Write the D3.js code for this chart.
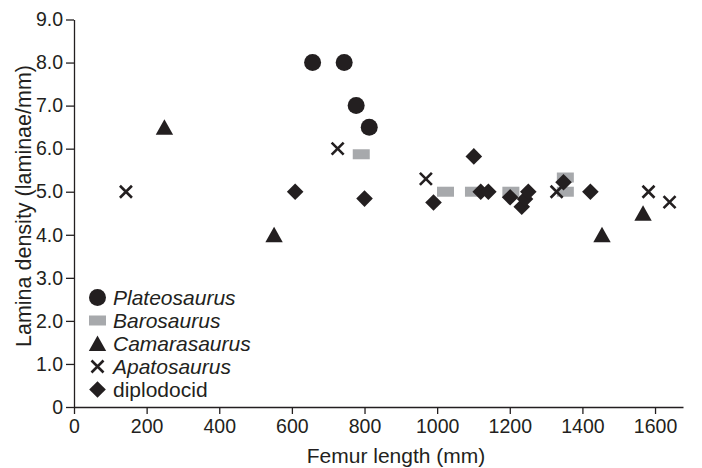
<!DOCTYPE html>
<html>
<head>
<meta charset="utf-8">
<script src="https://cdn.jsdelivr.net/npm/d3@7"></script>
<style>
  body { margin: 0; background: #fff; }
  text { font-family: "Liberation Sans", Arial, sans-serif; fill: #231f20; }
</style>
</head>
<body>
<script>
// chart size
var w = 702;
var h = 468;

// data: [femur length (mm), lamina density]
var plateosaurus = [[657, 8.0], [744, 8.0], [777, 7.0], [813, 6.5]];
var barosaurus = [[791, 5.87], [1023, 5.0], [1100, 5.0], [1203, 5.0], [1353, 5.33], [1353, 5.0]];
var camarasaurus = [[249, 6.5], [551, 4.0], [1454, 4.0], [1567, 4.5]];
var apatosaurus = [[143, 5.0], [726, 6.0], [969, 5.3], [1329, 5.0], [1582, 5.0], [1640, 4.76]];
var diplodocid = [[609, 5.0], [800, 4.84], [990, 4.75], [1101, 5.82], [1120, 5.0], [1141, 5.0],
                  [1201, 4.87], [1233, 4.65], [1242, 4.83], [1251, 5.0], [1348, 5.22], [1422, 5.0]];

var legendNames = ["Plateosaurus", "Barosaurus", "Camarasaurus", "Apatosaurus", "diplodocid"];
var xTicks = [0, 200, 400, 600, 800, 1000, 1200, 1400, 1600];
var yTicks = [0, 1, 2, 3, 4, 5, 6, 7, 8, 9];

var ink = "#231f20";
var grey = "#a7a9ac";

var svg = d3.select("body").append("svg")
    .attr("width", w)
    .attr("height", h);

var x = d3.scaleLinear().domain([0, 1677]).range([74, 683]);
var y = d3.scaleLinear().domain([0, 9]).range([407, 19.5]);

// axes
var xAxis = svg.append("g")
    .attr("transform", "translate(0," + y(0) + ")")
    .call(d3.axisBottom(x).tickValues(xTicks).tickSize(7).tickSizeOuter(0).tickPadding(5)
      .tickFormat(d3.format("d")));
var yAxis = svg.append("g")
    .attr("transform", "translate(" + x(0) + ",0)")
    .call(d3.axisLeft(y).tickValues(yTicks).tickSize(8).tickSizeOuter(0).tickPadding(3)
      .tickFormat(function(d) { return d === 0 ? "0" : d.toFixed(1); }));

[xAxis, yAxis].forEach(function(a) {
  a.selectAll("path, line").attr("stroke", ink).attr("stroke-width", 1.3);
  a.selectAll("text").attr("font-size", 19.5).attr("fill", ink)
    .style("font-family", "'Liberation Sans', Arial, sans-serif");
});

// axis titles
svg.append("text")
    .attr("x", 396)
    .attr("y", 463)
    .attr("text-anchor", "middle")
    .attr("font-size", 21)
    .text("Femur length (mm)");

svg.append("text")
    .attr("transform", "translate(30.5,206) rotate(-90)")
    .attr("text-anchor", "middle")
    .attr("font-size", 21.5)
    .text("Lamina density (laminae/mm)");

// marker shapes, drawn around (cx, cy)
function circle(g, cx, cy) {
  g.append("circle").attr("cx", cx).attr("cy", cy).attr("r", 8.5).attr("fill", ink);
}
function rect(g, cx, cy) {
  g.append("rect").attr("x", cx - 8.5).attr("y", cy - 5).attr("width", 17).attr("height", 10).attr("fill", grey);
}
function triangle(g, cx, cy) {
  g.append("path")
    .attr("d", "M" + cx + "," + (cy - 8) + "L" + (cx + 8.7) + "," + (cy + 7.5) + "L" + (cx - 8.7) + "," + (cy + 7.5) + "Z")
    .attr("fill", ink);
}
function cross(g, cx, cy) {
  g.append("path")
    .attr("d", "M" + (cx - 6) + "," + (cy - 6) + "L" + (cx + 6) + "," + (cy + 6) +
               "M" + (cx + 6) + "," + (cy - 6) + "L" + (cx - 6) + "," + (cy + 6))
    .attr("stroke", ink).attr("stroke-width", 2.6).attr("fill", "none");
}
function diamond(g, cx, cy) {
  g.append("path")
    .attr("d", "M" + cx + "," + (cy - 8.3) + "L" + (cx + 8.3) + "," + cy + "L" + cx + "," + (cy + 8.3) + "L" + (cx - 8.3) + "," + cy + "Z")
    .attr("fill", ink);
}

var groups = [
  {data: plateosaurus, draw: circle},
  {data: barosaurus, draw: rect},
  {data: camarasaurus, draw: triangle},
  {data: apatosaurus, draw: cross},
  {data: diplodocid, draw: diamond}
];

var plot = svg.append("g");
groups.forEach(function(s) {
  s.data.forEach(function(d) {
    s.draw(plot, x(d[0]), y(d[1]));
  });
});

// legend
var legend = svg.append("g");
groups.forEach(function(s, i) {
  var cy = 297.5 + i * 23;
  s.draw(legend, 97.5, cy);
  legend.append("text")
    .attr("x", 113)
    .attr("y", cy + 7)
    .attr("font-size", 21)
    .attr("font-style", i < 4 ? "italic" : "normal")
    .text(legendNames[i]);
});
</script>
</body>
</html>
